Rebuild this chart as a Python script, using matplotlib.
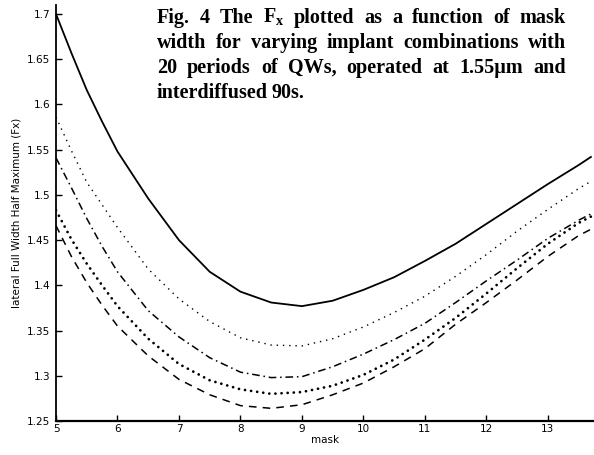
import matplotlib.pyplot as plt

# mask width
mask = [5, 5.25, 5.5, 5.75, 6, 6.5, 7, 7.5, 8, 8.5, 9, 9.5, 10, 10.5,
        11, 11.5, 12, 12.5, 13, 13.5, 13.7]

# lateral FWHM (Fx) for the five implant combinations
fx_solid = [1.700, 1.657, 1.616, 1.581, 1.548, 1.496, 1.450, 1.415, 1.393,
            1.381, 1.377, 1.383, 1.395, 1.409, 1.427, 1.446, 1.468, 1.490,
            1.512, 1.533, 1.542]
fx_dot = [1.586, 1.549, 1.514, 1.489, 1.464, 1.418, 1.385, 1.360, 1.342,
          1.334, 1.333, 1.341, 1.354, 1.370, 1.388, 1.410, 1.434, 1.460,
          1.484, 1.507, 1.515]
fx_dashdot = [1.541, 1.508, 1.474, 1.443, 1.415, 1.372, 1.343, 1.320, 1.304,
              1.298, 1.299, 1.310, 1.324, 1.340, 1.358, 1.381, 1.405, 1.428,
              1.452, 1.472, 1.479]
fx_bigdot = [1.483, 1.451, 1.424, 1.400, 1.377, 1.341, 1.313, 1.295, 1.285,
             1.280, 1.282, 1.289, 1.301, 1.318, 1.340, 1.364, 1.391, 1.419,
             1.446, 1.469, 1.476]
fx_dash = [1.466, 1.432, 1.403, 1.378, 1.355, 1.322, 1.296, 1.279, 1.267,
           1.264, 1.268, 1.279, 1.292, 1.310, 1.330, 1.357, 1.381, 1.406,
           1.432, 1.455, 1.462]

x_ticks = [5, 6, 7, 8, 9, 10, 11, 12, 13]
y_ticks = [1.25, 1.3, 1.35, 1.4, 1.45, 1.5, 1.55, 1.6, 1.65, 1.7]
y_tick_labels = ['1.25', '1.3', '1.35', '1.4', '1.45', '1.5', '1.55', '1.6', '1.65', '1.7']

caption = [
    ["Fig.", "4", "The", r"F$_{\mathbf{x}}$", "plotted", "as", "a", "function", "of", "mask"],
    ["width", "for", "varying", "implant", "combinations", "with"],
    ["20", "periods", "of", "QWs,", "operated", "at", "1.55\u03bcm", "and"],
    ["interdiffused", "90s."],
]

plt.rcParams['mathtext.fontset'] = 'custom'
plt.rcParams['mathtext.bf'] = 'Liberation Serif:bold'
plt.rcParams['mathtext.rm'] = 'Liberation Serif:bold'

W, H = 594, 455
fig = plt.figure(figsize=(W / 100, H / 100), dpi=100)
ax = fig.add_axes([56 / W, 34 / H, 538 / W, 416 / H])

ax.plot(mask, fx_solid, color='black', lw=1.3, ls='-')
ax.plot(mask, fx_dot, color='black', lw=1.0, ls=(0, (1, 3.5)))
ax.plot(mask, fx_dashdot, color='black', lw=1.1, ls=(0, (5, 2.5, 1, 2.5)))
ax.plot(mask, fx_bigdot, color='black', lw=2.0, ls=(0, (0.01, 2.2)),
        dash_capstyle='round')
ax.plot(mask, fx_dash, color='black', lw=1.1, ls=(0, (5, 4)))

ax.set_xlim(5, 13.75)
ax.set_ylim(1.25, 1.71)
ax.set_xticks(x_ticks)
ax.set_yticks(y_ticks)
ax.set_yticklabels(y_tick_labels)
ax.tick_params(direction='in', length=4, width=1, labelsize=7.5)
ax.tick_params(axis='x', pad=2)
ax.tick_params(axis='y', pad=4)
for s in ['top', 'right']:
    ax.spines[s].set_visible(False)
ax.spines['left'].set_linewidth(1.3)
ax.spines['bottom'].set_linewidth(1.6)

ax.set_xlabel('mask', fontsize=7.5, labelpad=1)
ax.set_ylabel('lateral Full Width Half Maximum (Fx)', fontsize=7.5)
ax.yaxis.set_label_coords(-0.065, 0.5)

# justified caption in the top right
renderer = fig.canvas.get_renderer()
x0, x1 = 157, 566
baselines = [23, 48, 73, 98]
for i, words in enumerate(caption):
    texts = [fig.text(0, 0, w, fontsize=14.5, family='Liberation Serif',
                      weight='bold', va='baseline', ha='left') for w in words]
    widths = [t.get_window_extent(renderer).width for t in texts]
    if i < len(caption) - 1:
        gap = (x1 - x0 - sum(widths)) / (len(words) - 1)
    else:
        gap = 4
    xpos = x0
    for t, w in zip(texts, widths):
        t.set_position((xpos / W, 1 - baselines[i] / H))
        xpos += w + gap

fig.savefig('out.png', dpi=100)
